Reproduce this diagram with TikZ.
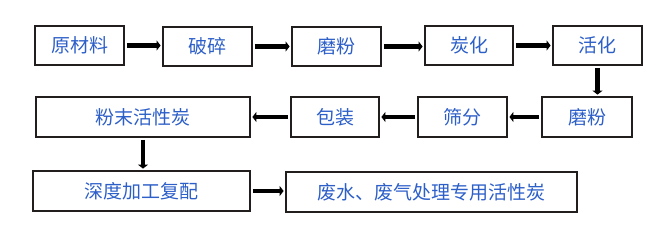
\documentclass[tikz,border=0pt]{standalone}
\usepackage{fontspec}
\setmainfont{Noto Sans CJK SC}
\usepackage{tikz}
\usetikzlibrary{arrows.meta}
\definecolor{textblue}{RGB}{45, 95, 200}
\definecolor{boxline}{RGB}{35, 30, 30}

\begin{document}
\begin{tikzpicture}[x=1pt, y=-1pt,
  stepbox/.style={draw=boxline, line width=1.8pt, text=textblue, minimum height=39pt, inner sep=0pt, font=\fontsize{19}{19}\selectfont},
  flow/.style={line width=4.5pt, -{Triangle[length=4pt,width=10pt]}, shorten <=2pt, shorten >=1.5pt}]
\useasboundingbox (0,0) rectangle (671,230);
% first row
\node[stepbox, minimum width=89pt] (raw) at (79.5,45.5) {原材料};
\node[stepbox, minimum width=89pt] (crush) at (207.5,46.5) {破碎};
\node[stepbox, minimum width=89pt] (grindA) at (336.5,46.5) {磨粉};
\node[stepbox, minimum width=88pt] (carbon) at (469,45.5) {炭化};
\node[stepbox, minimum width=89pt] (activ) at (597.5,45.5) {活化};
% second row
\node[stepbox, minimum width=214pt, minimum height=40pt] (powder) at (143,117) {粉末活性炭};
\node[stepbox, minimum width=88pt, minimum height=40pt] (pack) at (335,117) {包装};
\node[stepbox, minimum width=89pt, minimum height=40pt] (sieve) at (462.5,117) {筛分};
\node[stepbox, minimum width=90pt, minimum height=40pt] (grindB) at (587,117) {磨粉};
% third row
\node[stepbox, minimum width=217pt, minimum height=40pt] (deep) at (141.5,191) {深度加工复配};
\node[stepbox, minimum width=291pt, minimum height=40pt] (special) at (431.5,192) {废水、废气处理专用活性炭};
% arrows
\draw[flow] (raw) -- (crush.west |- raw);
\draw[flow] (crush) -- (grindA);
\draw[flow] (grindA) -- (carbon.west |- grindA);
\draw[flow] (carbon) -- (activ);
\draw[flow] (activ.south) -- (activ.south |- grindB.north);
\draw[flow] (grindB) -- (sieve);
\draw[flow] (sieve) -- (pack);
\draw[flow] (pack) -- (powder);
\draw[flow] (powder.south) -- (powder.south |- deep.north);
\draw[flow] (deep) -- (special.west |- deep);
\end{tikzpicture}
\end{document}
